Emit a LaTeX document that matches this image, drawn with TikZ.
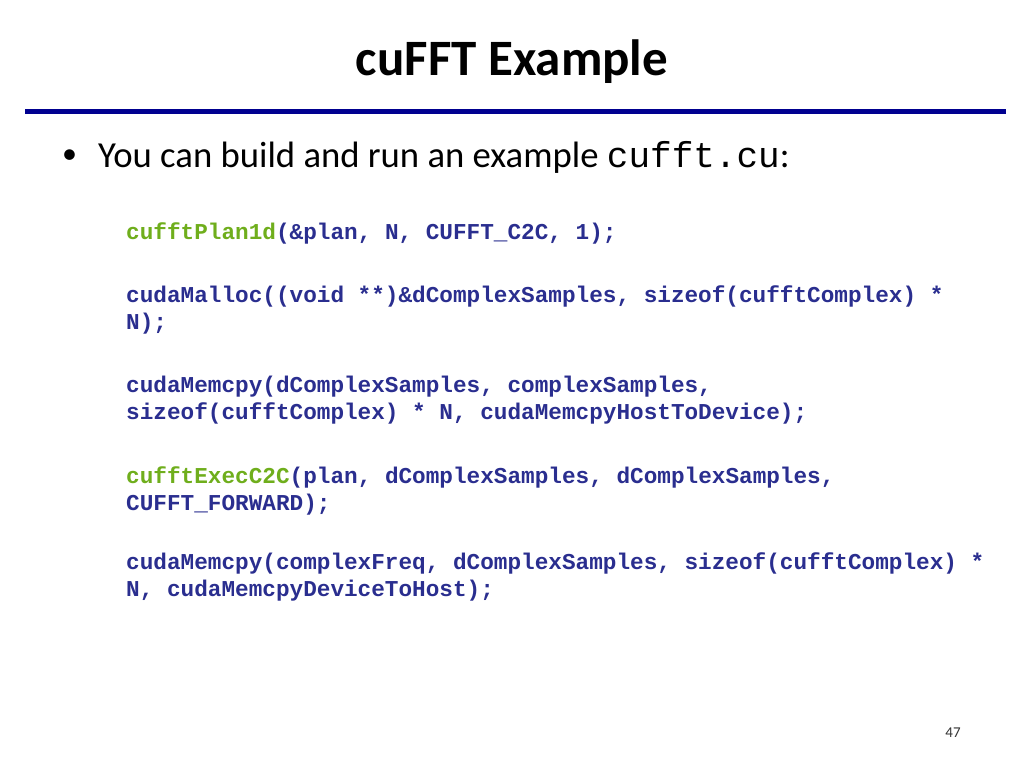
\documentclass[tikz,border=0pt]{standalone}
\usepackage{fontspec}
\setmainfont{Carlito}
\newfontfamily\codefont{Liberation Mono}
\definecolor{codeblue}{HTML}{2A2E8F}
\definecolor{codegreen}{HTML}{6FAE1C}
\definecolor{barblue}{HTML}{000090}
\begin{document}
\begin{tikzpicture}[x=1pt,y=-1pt,
  code/.style={anchor=base west,inner sep=0pt,font=\codefont\bfseries\fontsize{22.7}{27}\selectfont,text=codeblue},
  txt/.style={anchor=base west,inner sep=0pt}]
\useasboundingbox (0,0) rectangle (1024,768);
\node[inner sep=0pt,font=\bfseries\fontsize{51}{56}\selectfont] (title) at (512,62) {cuFFT Example};
\coordinate (b1) at (25,111); \coordinate (b2) at (1006,111);
\draw[barblue,line width=5pt] (b1) -- (b2);
\node[txt,font=\fontsize{30}{36}\selectfont] (bul) at (62,163) {•};
\node[txt,font=\fontsize{36.7}{40}\selectfont] (l1) at (98,167) {You can build and run an example \codefont\fontsize{36}{36}\selectfont cufft.cu\rmfamily\fontsize{36.7}{40}\selectfont:};
\node[code] (c1) at (126,239) {\textcolor{codegreen}{cufftPlan1d}(\&plan, N, CUFFT\_C2C, 1);};
\node[code] (c2) at (126,302) {cudaMalloc((void **)\&dComplexSamples, sizeof(cufftComplex) *};
\node[code] (c2b) at (126,329) {N);};
\node[code] (c3) at (126,392) {cudaMemcpy(dComplexSamples, complexSamples,};
\node[code] (c3b) at (126,419) {sizeof(cufftComplex) * N, cudaMemcpyHostToDevice);};
\node[code] (c4) at (126,483) {\textcolor{codegreen}{cufftExecC2C}(plan, dComplexSamples, dComplexSamples,};
\node[code] (c4b) at (126,510) {CUFFT\_FORWARD);};
\node[code] (c5) at (126,569) {cudaMemcpy(complexFreq, dComplexSamples, sizeof(cufftComplex) *};
\node[code] (c5b) at (126,596) {N, cudaMemcpyDeviceToHost);};
\node[inner sep=0pt,font=\fontsize{15}{18}\selectfont,text=black!80] (pg) at (953,733) {47};
\end{tikzpicture}
\end{document}
